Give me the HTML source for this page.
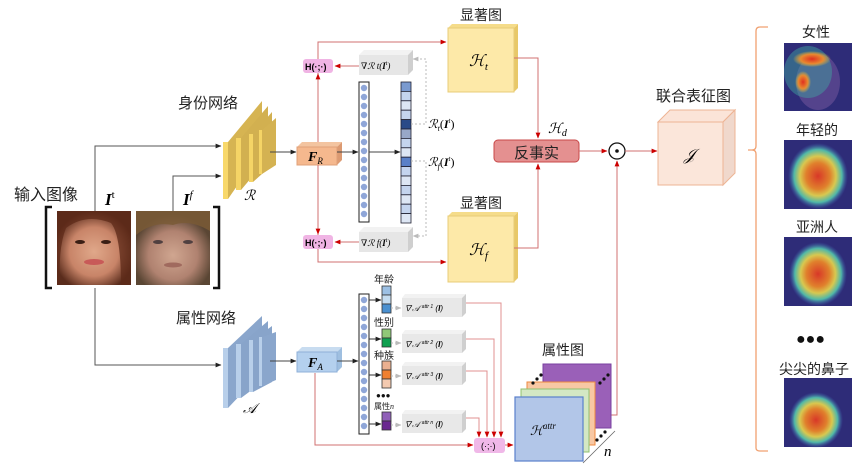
<!DOCTYPE html>
<html><head><meta charset="utf-8"><style>
html,body{margin:0;padding:0;background:#fff}
svg{display:block}
text{font-family:"Liberation Sans","Noto Sans CJK SC",sans-serif}
.cn{font-family:"Liberation Sans","Noto Sans CJK SC",sans-serif;fill:#222}
.m{font-family:"Liberation Serif","DejaVu Serif",serif;font-style:italic}
</style></head><body>
<svg width="864" height="464" viewBox="0 0 864 464" xmlns="http://www.w3.org/2000/svg">
<defs>
<marker id="ak" viewBox="0 0 10 10" refX="9" refY="5" markerWidth="6" markerHeight="6" orient="auto"><path d="M0,1L10,5L0,9z" fill="#222"/></marker>
<marker id="ar" viewBox="0 0 10 10" refX="9" refY="5" markerWidth="6" markerHeight="6" orient="auto"><path d="M0,1L10,5L0,9z" fill="#c00"/></marker>
<marker id="ag" viewBox="0 0 10 10" refX="9" refY="5" markerWidth="6" markerHeight="6" orient="auto"><path d="M0,1L10,5L0,9z" fill="#bbb"/></marker>
<radialGradient id="f1" cx="50%" cy="55%" r="55%"><stop offset="0" stop-color="#e0a88a"/><stop offset="0.6" stop-color="#c88468"/><stop offset="1" stop-color="#5a2c1c"/></radialGradient>
<radialGradient id="f2" cx="50%" cy="60%" r="55%"><stop offset="0" stop-color="#d0a690"/><stop offset="0.6" stop-color="#b08270"/><stop offset="1" stop-color="#5a4634"/></radialGradient>
<radialGradient id="hm" cx="50%" cy="50%" r="50%"><stop offset="0" stop-color="#d83828"/><stop offset="0.4" stop-color="#e0802c"/><stop offset="0.6" stop-color="#d8c850"/><stop offset="0.8" stop-color="#50b8a8"/><stop offset="1" stop-color="#4060b0" stop-opacity="0"/></radialGradient>
<radialGradient id="hot" cx="50%" cy="50%" r="50%"><stop offset="0" stop-color="#e03020"/><stop offset="0.6" stop-color="#e88a30"/><stop offset="1" stop-color="#e0c040" stop-opacity="0"/></radialGradient>
</defs>

<!-- Input -->
<text x="14" y="200" class="cn" font-size="16">输入图像</text>
<path d="M52,207 h-6 v81 h6" fill="none" stroke="#111" stroke-width="2.5"/>
<path d="M213,207 h6 v81 h-6" fill="none" stroke="#111" stroke-width="2.5"/>
<rect x="57" y="211" width="74" height="74" fill="url(#f1)"/>
<path d="M57,211 h74 v74 h-10 q0,-50 -10,-62 q-25,-10 -45,5 q-8,20 -6,57 h-3z" fill="#5e2a18" opacity="0.75"/>
<ellipse cx="94" cy="262" rx="10" ry="3" fill="#c85a58"/>
<ellipse cx="80" cy="242" rx="5" ry="2" fill="#3a1e14"/><ellipse cx="106" cy="242" rx="5" ry="2" fill="#3a1e14"/>
<rect x="136" y="211" width="74" height="74" fill="url(#f2)"/>
<path d="M136,211 h74 v20 q-20,-12 -37,-6 q-20,-4 -37,10z" fill="#7a5a36" opacity="0.85"/>
<ellipse cx="158" cy="242" rx="5" ry="2" fill="#504040"/><ellipse cx="188" cy="242" rx="5" ry="2" fill="#504040"/>
<ellipse cx="173" cy="265" rx="9" ry="2.5" fill="#a06a5e"/>
<text x="105" y="205" class="m" font-size="17" font-weight="bold">I<tspan font-size="11" dy="-7" font-style="normal" font-weight="normal">t</tspan></text>
<text x="183" y="205" class="m" font-size="17" font-weight="bold">I<tspan font-size="11" dy="-7" font-weight="normal">f</tspan></text>

<path d="M95,211 V146 H221" fill="none" stroke="#555" marker-end="url(#ak)"/>
<path d="M173,211 V176 H221" fill="none" stroke="#555" marker-end="url(#ak)"/>
<path d="M95,288 V365 H221" fill="none" stroke="#555" marker-end="url(#ak)"/>

<!-- identity net -->
<text x="178" y="108" class="cn" font-size="15">身份网络</text>
<g>
<polygon points="228,142 262,101 262,150 228,199" fill="#d6b452"/><polygon points="223,142 228,142 228,199 223,199" fill="#f8d86a"/>
<polygon points="241,138 268,106 268,158 241,190" fill="#d2b050"/><polygon points="236,138 241,138 241,190 236,190" fill="#f5d466"/>
<polygon points="253,134 272,112 272,165 253,182" fill="#d2b050"/><polygon points="249,134 253,134 253,182 249,182" fill="#f5d466"/>
<polygon points="262,130 276,118 276,165 262,174" fill="#d4b252"/><polygon points="259,130 262,130 262,174 259,174" fill="#f5d466"/>
</g>
<text x="244" y="200" class="m" font-size="14">ℛ</text>
<line x1="270" y1="152" x2="296" y2="152" stroke="#444" marker-end="url(#ak)"/>

<!-- attribute net -->
<text x="176" y="323" class="cn" font-size="15">属性网络</text>
<polygon points="228,348 262,316 262,372 228,408" fill="#8aa6cc"/><polygon points="223,348 228,348 228,408 223,408" fill="#b8cfea"/>
<polygon points="241,344 268,321 268,378 241,398" fill="#88a4ca"/><polygon points="236,344 241,344 241,398 236,398" fill="#b8cfea"/>
<polygon points="253,340 272,326 272,382 253,392" fill="#88a4ca"/><polygon points="249,340 253,340 253,392 249,392" fill="#b8cfea"/>
<polygon points="262,337 276,332 276,380 262,386" fill="#8aa6cc"/><polygon points="259,337 262,337 262,386 259,386" fill="#b8cfea"/>
<text x="243" y="413" class="m" font-size="14">𝒜</text>
<line x1="270" y1="361" x2="296" y2="361" stroke="#444" marker-end="url(#ak)"/>

<!-- F_R -->
<polygon points="297,147 302,142 342,142 337,147" fill="#f3c4a0"/>
<polygon points="337,147 342,142 342,160 337,165" fill="#dc9a72"/>
<rect x="297" y="147" width="40" height="18" fill="#f5b88e" stroke="#e0a078"/>
<text x="308" y="161" class="m" font-size="14" font-weight="bold">F<tspan font-size="9" dy="3" font-weight="normal">R</tspan></text>
<!-- F_A -->
<polygon points="297,352 302,347 342,347 337,352" fill="#c8dcf0"/>
<polygon points="337,352 342,347 342,367 337,372" fill="#9fbfe0"/>
<rect x="297" y="352" width="40" height="20" fill="#b4d0ee" stroke="#8fb0d8"/>
<text x="308" y="367" class="m" font-size="14" font-weight="bold">F<tspan font-size="9" dy="3" font-weight="normal">A</tspan></text>

<path d="M318,142 V42 H446" fill="none" stroke="#d07070" marker-end="url(#ar)"/>
<line x1="318" y1="142" x2="318" y2="74" stroke="#d07070" marker-end="url(#ar)"/>
<path d="M318,165 V262 H446" fill="none" stroke="#d07070" marker-end="url(#ar)"/>
<line x1="318" y1="165" x2="318" y2="234" stroke="#d07070" marker-end="url(#ar)"/>
<rect x="303" y="59" width="30" height="14" rx="3" fill="#f0b4e4"/>
<text x="305" y="70" font-size="9" font-family="Liberation Serif,serif" font-weight="bold">H(·;·)</text>
<rect x="303" y="235" width="30" height="14" rx="3" fill="#f0b4e4"/>
<text x="305" y="246" font-size="9" font-family="Liberation Serif,serif" font-weight="bold">H(·;·)</text>

<line x1="337" y1="152" x2="358" y2="152" stroke="#444" marker-end="url(#ak)"/>
<rect x="359" y="82" width="10" height="140" fill="#fff" stroke="#222"/>
<g fill="#8fa6d8">
<circle cx="364" cy="88" r="3.2"/><circle cx="364" cy="97" r="3.2"/><circle cx="364" cy="106" r="3.2"/><circle cx="364" cy="115" r="3.2"/><circle cx="364" cy="124" r="3.2"/><circle cx="364" cy="133" r="3.2"/><circle cx="364" cy="142" r="3.2"/><circle cx="364" cy="151" r="3.2"/><circle cx="364" cy="160" r="3.2"/><circle cx="364" cy="169" r="3.2"/><circle cx="364" cy="178" r="3.2"/><circle cx="364" cy="187" r="3.2"/><circle cx="364" cy="196" r="3.2"/><circle cx="364" cy="205" r="3.2"/><circle cx="364" cy="214" r="3.2"/>
</g>
<line x1="369" y1="152" x2="400" y2="152" stroke="#444" marker-end="url(#ak)"/>
<g stroke="#223" stroke-width="0.8">
<rect x="401" y="82" width="10" height="9.4" fill="#7a9ad0"/><rect x="401" y="91.4" width="10" height="9.4" fill="#c4d4ee"/><rect x="401" y="100.8" width="10" height="9.4" fill="#dde6f4"/><rect x="401" y="110.2" width="10" height="9.4" fill="#c4d4ee"/><rect x="401" y="119.6" width="10" height="9.4" fill="#2a4a88"/><rect x="401" y="129" width="10" height="9.4" fill="#98a8c8"/><rect x="401" y="138.4" width="10" height="9.4" fill="#c4d4ee"/><rect x="401" y="147.8" width="10" height="9.4" fill="#dde6f4"/><rect x="401" y="157.2" width="10" height="9.4" fill="#5a80c8"/><rect x="401" y="166.6" width="10" height="9.4" fill="#c4d4ee"/><rect x="401" y="176" width="10" height="9.4" fill="#dde6f4"/><rect x="401" y="185.4" width="10" height="9.4" fill="#c4d4ee"/><rect x="401" y="194.8" width="10" height="9.4" fill="#dde6f4"/><rect x="401" y="204.2" width="10" height="9.4" fill="#c4d4ee"/><rect x="401" y="213.6" width="10" height="9.4" fill="#dde6f4"/>
</g>
<path d="M411,124 H426 V59 H413" fill="none" stroke="#bbb" stroke-dasharray="2,2" marker-end="url(#ag)"/>
<path d="M411,161 H426 V236 H413" fill="none" stroke="#bbb" stroke-dasharray="2,2" marker-end="url(#ag)"/>
<text x="428" y="128" class="m" font-size="12">ℛ<tspan font-size="8" dy="3">t</tspan><tspan dy="-3" font-style="normal">(</tspan><tspan font-weight="bold">I</tspan><tspan font-size="7" dy="-5">t</tspan><tspan dy="5" font-style="normal">)</tspan></text>
<text x="428" y="166" class="m" font-size="12">ℛ<tspan font-size="8" dy="3">f</tspan><tspan dy="-3" font-style="normal">(</tspan><tspan font-weight="bold">I</tspan><tspan font-size="7" dy="-5">t</tspan><tspan dy="5" font-style="normal">)</tspan></text>

<g>
<polygon points="359,55 364,50 413,50 408,55" fill="#f2f2f2"/><polygon points="408,55 413,50 413,70 408,75" fill="#cfcfcf"/><rect x="359" y="55" width="49" height="20" fill="#e6e6e6"/>
<text x="361" y="69" font-size="9" class="m">∇ℛ t(<tspan font-weight="bold">I</tspan><tspan font-size="6" dy="-4">t</tspan><tspan dy="4">)</tspan></text>
<polygon points="359,232 364,227 413,227 408,232" fill="#f2f2f2"/><polygon points="408,232 413,227 413,247 408,252" fill="#cfcfcf"/><rect x="359" y="232" width="49" height="20" fill="#e6e6e6"/>
<text x="361" y="246" font-size="9" class="m">∇ℛ f(<tspan font-weight="bold">I</tspan><tspan font-size="6" dy="-4">t</tspan><tspan dy="4">)</tspan></text>
</g>
<line x1="359" y1="66" x2="335" y2="66" stroke="#d07070" marker-end="url(#ar)"/>
<line x1="359" y1="242" x2="335" y2="242" stroke="#d07070" marker-end="url(#ar)"/>

<text x="460" y="20" class="cn" font-size="14">显著图</text>
<polygon points="448,28 452,24 518,24 514,28" fill="#f5dc8a"/><polygon points="514,28 518,24 518,88 514,92" fill="#e8c868"/>
<rect x="448" y="28" width="66" height="64" fill="#fde9a8" stroke="#e8cc78"/>
<text x="469" y="66" class="m" font-size="16">ℋ<tspan font-size="11" dy="4">t</tspan></text>
<text x="460" y="208" class="cn" font-size="14">显著图</text>
<polygon points="448,216 452,212 518,212 514,216" fill="#f5dc8a"/><polygon points="514,216 518,212 518,278 514,282" fill="#e8c868"/>
<rect x="448" y="216" width="66" height="66" fill="#fde9a8" stroke="#e8cc78"/>
<text x="469" y="255" class="m" font-size="16">ℋ<tspan font-size="11" dy="4">f</tspan></text>
<path d="M514,58 H538 V138" fill="none" stroke="#d07070" marker-end="url(#ar)"/>
<path d="M514,248 H538 V164" fill="none" stroke="#d07070" marker-end="url(#ar)"/>

<rect x="494" y="140" width="85" height="22" rx="4" fill="#e49090" stroke="#c84848"/>
<text x="514" y="158" class="cn" font-size="15">反事实</text>
<text x="548" y="133" class="m" font-size="14">ℋ<tspan font-size="10" dy="3">d</tspan></text>
<line x1="579" y1="151" x2="607" y2="151" stroke="#d07070" marker-end="url(#ar)"/>
<circle cx="617" cy="151" r="8" fill="#fff" stroke="#111" stroke-width="1.3"/><circle cx="617" cy="151" r="1.8" fill="#111"/>
<line x1="625" y1="151" x2="657" y2="151" stroke="#d07070" marker-end="url(#ar)"/>
<path d="M595,415 H617 V161" fill="none" stroke="#d07070" marker-end="url(#ar)"/>

<text x="656" y="101" class="cn" font-size="15">联合表征图</text>
<polygon points="658,122 670,110 735,110 723,122" fill="#fbe4d8" stroke="#eeb494"/>
<polygon points="723,122 735,110 735,173 723,185" fill="#f0d8cc" stroke="#eeb494"/>
<rect x="658" y="122" width="65" height="63" fill="#fbe6da" stroke="#eeb494"/>
<text x="684" y="160" class="m" font-size="16">𝒥</text>

<path d="M768,27 H760 Q756,27 756,31 V146 Q756,150 752,150 H748 H752 Q756,150 756,154 V448 Q756,451 760,451 H768" fill="none" stroke="#f0a070" stroke-width="1.3"/>

<!-- heatmaps -->
<text x="802" y="37" class="cn" font-size="14">女性</text>
<rect x="784" y="43" width="68" height="68" fill="#2e2c78"/>
<ellipse cx="818" cy="82" rx="22" ry="28" fill="#7a5aa0" opacity="0.5"/>
<ellipse cx="808" cy="72" rx="24" ry="26" fill="#40a8a0" opacity="0.45"/>
<ellipse cx="812" cy="59" rx="19" ry="8" fill="url(#hot)"/>
<ellipse cx="803" cy="82" rx="8" ry="11" fill="url(#hot)"/>
<text x="796" y="135" class="cn" font-size="14">年轻的</text>
<rect x="784" y="140" width="68" height="69" fill="#2e2c78"/>
<ellipse cx="818" cy="176" rx="30" ry="33" fill="url(#hm)"/>
<text x="796" y="232" class="cn" font-size="14">亚洲人</text>
<rect x="784" y="237" width="68" height="69" fill="#2e2c78"/>
<ellipse cx="818" cy="274" rx="29" ry="32" fill="url(#hm)"/>
<text x="796" y="344" font-size="16" fill="#111">●●●</text>
<text x="779" y="374" class="cn" font-size="14">尖尖的鼻子</text>
<rect x="784" y="378" width="68" height="69" fill="#2e2c78"/>
<ellipse cx="816" cy="420" rx="27" ry="28" fill="url(#hm)"/>

<!-- attribute branch -->
<line x1="337" y1="361" x2="358" y2="361" stroke="#444" marker-end="url(#ak)"/>
<rect x="359" y="294" width="10" height="140" fill="#fff" stroke="#222"/>
<g fill="#8fa6d8">
<circle cx="364" cy="300" r="3.2"/><circle cx="364" cy="309" r="3.2"/><circle cx="364" cy="318" r="3.2"/><circle cx="364" cy="327" r="3.2"/><circle cx="364" cy="336" r="3.2"/><circle cx="364" cy="345" r="3.2"/><circle cx="364" cy="354" r="3.2"/><circle cx="364" cy="363" r="3.2"/><circle cx="364" cy="372" r="3.2"/><circle cx="364" cy="381" r="3.2"/><circle cx="364" cy="390" r="3.2"/><circle cx="364" cy="399" r="3.2"/><circle cx="364" cy="408" r="3.2"/><circle cx="364" cy="417" r="3.2"/><circle cx="364" cy="426" r="3.2"/>
</g>
<g font-size="10" class="cn">
<text x="374" y="283">年龄</text><text x="374" y="326">性别</text><text x="374" y="359">种族</text>
<text x="374" y="409" font-size="8">属性<tspan class="m">n</tspan></text>
</g>
<text x="376" y="398" font-size="8" fill="#111">●●●</text>
<g stroke="#333" stroke-width="0.8">
<rect x="382" y="286" width="9" height="9" fill="#9cc0e4"/><rect x="382" y="295" width="9" height="9" fill="#c4dcf0"/><rect x="382" y="304" width="9" height="9" fill="#4a90d0"/>
<rect x="382" y="329" width="9" height="9" fill="#90c878"/><rect x="382" y="338" width="9" height="9" fill="#10a050"/>
<rect x="382" y="361" width="9" height="9" fill="#eab090"/><rect x="382" y="370" width="9" height="9" fill="#f08030"/><rect x="382" y="379" width="9" height="9" fill="#f4cab0"/>
<rect x="382" y="412" width="9" height="9" fill="#9060b8"/><rect x="382" y="421" width="9" height="9" fill="#6a2890"/>
</g>
<g stroke="#333"><line x1="369" y1="300" x2="381" y2="300" marker-end="url(#ak)"/><line x1="369" y1="339" x2="381" y2="339" marker-end="url(#ak)"/><line x1="369" y1="375" x2="381" y2="375" marker-end="url(#ak)"/><line x1="369" y1="424" x2="381" y2="424" marker-end="url(#ak)"/></g>
<g stroke="#bbb" stroke-dasharray="2,2"><line x1="391" y1="308" x2="401" y2="308" marker-end="url(#ag)"/><line x1="391" y1="343" x2="401" y2="343" marker-end="url(#ag)"/><line x1="391" y1="376" x2="401" y2="376" marker-end="url(#ag)"/><line x1="391" y1="425" x2="401" y2="425" marker-end="url(#ag)"/></g>
<g>
<polygon points="402,298 405,294 466,294 462,298" fill="#f2f2f2"/><polygon points="462,298 466,294 466,313 462,317" fill="#cfcfcf"/><rect x="402" y="298" width="60" height="19" fill="#e8e8e8"/>
<polygon points="402,334 405,330 466,330 462,334" fill="#f2f2f2"/><polygon points="462,334 466,330 466,349 462,353" fill="#cfcfcf"/><rect x="402" y="334" width="60" height="19" fill="#e8e8e8"/>
<polygon points="402,366 405,362 466,362 462,366" fill="#f2f2f2"/><polygon points="462,366 466,362 466,381 462,385" fill="#cfcfcf"/><rect x="402" y="366" width="60" height="19" fill="#e8e8e8"/>
<polygon points="402,414 405,410 466,410 462,414" fill="#f2f2f2"/><polygon points="462,414 466,410 466,429 462,433" fill="#cfcfcf"/><rect x="402" y="414" width="60" height="19" fill="#e8e8e8"/>
</g>
<g font-size="8" class="m">
<text x="404" y="311">∇𝒜 <tspan font-size="5" dy="-3">attr 1</tspan><tspan dy="3"> (</tspan><tspan font-weight="bold">I</tspan>)</text>
<text x="404" y="347">∇𝒜 <tspan font-size="5" dy="-3">attr 2</tspan><tspan dy="3"> (</tspan><tspan font-weight="bold">I</tspan>)</text>
<text x="404" y="379">∇𝒜 <tspan font-size="5" dy="-3">attr 3</tspan><tspan dy="3"> (</tspan><tspan font-weight="bold">I</tspan>)</text>
<text x="404" y="427">∇𝒜 <tspan font-size="5" dy="-3">attr n</tspan><tspan dy="3"> (</tspan><tspan font-weight="bold">I</tspan>)</text>
</g>
<g fill="none" stroke="#e09090">
<path d="M466,303 H501 V437" marker-end="url(#ar)"/>
<path d="M466,339 H494 V437" marker-end="url(#ar)"/>
<path d="M466,371 H487 V437" marker-end="url(#ar)"/>
<path d="M466,418 H479 V437" marker-end="url(#ar)"/>
</g>
<path d="M315,373 V445 H473" fill="none" stroke="#d07070" marker-end="url(#ar)"/>
<rect x="474" y="438" width="31" height="15" rx="3" fill="#f0b8e8"/>
<text x="481" y="449" font-size="9" font-family="Liberation Serif,serif">(·;·)</text>
<line x1="505" y1="445" x2="513" y2="445" stroke="#d07070" marker-end="url(#ar)"/>

<text x="542" y="355" class="cn" font-size="14">属性图</text>
<rect x="543" y="364" width="68" height="64" fill="#9a60b8" stroke="#7a40a0"/>
<rect x="527" y="382" width="68" height="63" fill="#f8c8a4" stroke="#ee8a40"/>
<rect x="521" y="389" width="68" height="63" fill="#d4e8c4" stroke="#90c070"/>
<rect x="515" y="397" width="68" height="64" fill="#b2c6e8" stroke="#5a80cc" stroke-width="1.2"/>
<text x="530" y="435" class="m" font-size="13">ℋ<tspan font-size="9" dy="-6">attr</tspan></text>
<g fill="#111"><circle cx="533" cy="383" r="1.6"/><circle cx="537" cy="379" r="1.6"/><circle cx="541" cy="375" r="1.6"/><circle cx="600" cy="383" r="1.6"/><circle cx="604" cy="379" r="1.6"/><circle cx="608" cy="375" r="1.6"/><circle cx="597" cy="440" r="1.6"/><circle cx="601" cy="436" r="1.6"/><circle cx="605" cy="432" r="1.6"/></g>
<line x1="583" y1="463" x2="615" y2="431" stroke="#666" stroke-width="0.8"/>
<text x="604" y="456" class="m" font-size="15">n</text>
</svg>
</body></html>
